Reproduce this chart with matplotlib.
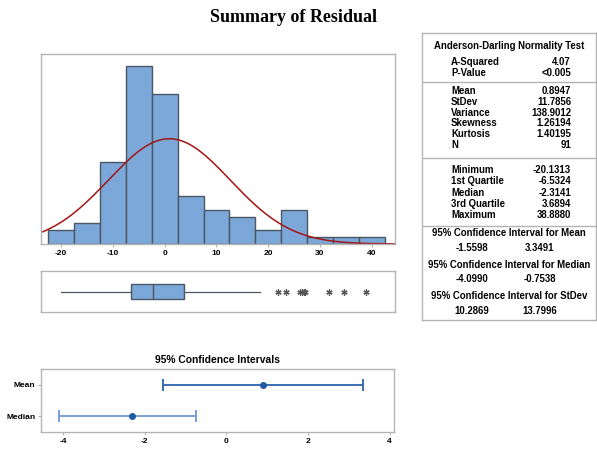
import numpy as np
import matplotlib.pyplot as plt
from matplotlib.ticker import NullLocator

plt.rcParams['font.family'] = ['Liberation Sans', 'DejaVu Sans']
plt.rcParams['axes.unicode_minus'] = False

# histogram of residuals (bin width 5)
bin_centers = [-20, -15, -10, -5, 0, 5, 10, 15, 20, 25, 30, 35, 40]
counts = [2, 3, 12, 26, 22, 7, 5, 4, 2, 5, 1, 1, 1]

# descriptive statistics
n_obs = 91
mean_res = 0.8947
stdev_res = 11.7856
minimum = -20.1313
q1 = -6.5324
median_res = -2.3141
q3 = 3.6894
maximum = 38.8880
whisker_hi = 18.5
outliers = [21.8, 23.5, 26.1, 26.5, 26.9, 27.2, 31.7, 34.6, 38.888]

# 95% confidence intervals
ci_mean = (-1.5598, 3.3491)
ci_median = (-4.0990, -0.7538)
ci_stdev = (10.2869, 13.7996)

ad_labels = ["A-Squared", "P-Value"]
ad_values = ["4.07", "<0.005"]
desc_labels = ["Mean", "StDev", "Variance", "Skewness", "Kurtosis", "N"]
desc_values = ["0.8947", "11.7856", "138.9012", "1.26194", "1.40195", "91"]
quart_labels = ["Minimum", "1st Quartile", "Median", "3rd Quartile", "Maximum"]
quart_values = ["-20.1313", "-6.5324", "-2.3141", "3.6894", "38.8880"]

W, H = 597, 453
BAR = '#7ba7d9'
EDGE = '#4b5763'
FRAME = '#b4b4b4'


def px_axes(fig, x0, y0, x1, y1):
    return fig.add_axes([x0 / W, 1 - y1 / H, (x1 - x0) / W, (y1 - y0) / H])


def frame(ax):
    for s in ax.spines.values():
        s.set_color(FRAME)
        s.set_linewidth(1.0)


fig = plt.figure(figsize=(W / 100, H / 100), dpi=100)
fig.text(294 / W, 1 - 18 / H, "Summary of Residual", ha='center', va='center',
         family='Liberation Serif', fontweight='bold', fontsize=13)

xlim = (-23.9, 44.5)

# --- histogram with fitted normal curve
ax = px_axes(fig, 41, 54, 395, 244)
ax.bar(bin_centers, counts, width=5, color=BAR, edgecolor=EDGE, linewidth=1.0)
xs = np.linspace(xlim[0], xlim[1], 400)
pdf = n_obs * 5 * np.exp(-0.5 * ((xs - mean_res) / stdev_res) ** 2) / (stdev_res * np.sqrt(2 * np.pi))
ax.plot(xs, pdf, color='#a31515', lw=1.1)
ax.set_xlim(*xlim)
ax.set_ylim(0, 27.8)
ax.set_xticks([-20, -10, 0, 10, 20, 30, 40])
ax.yaxis.set_major_locator(NullLocator())
ax.tick_params(axis='x', length=2, color=FRAME, pad=2, labelsize=6)
for t in ax.get_xticklabels():
    t.set_fontweight('bold')
frame(ax)

# --- boxplot
axb = px_axes(fig, 41, 271, 395, 312)
stats = [dict(med=median_res, q1=q1, q3=q3, whislo=minimum, whishi=whisker_hi,
              fliers=outliers)]
axb.bxp(stats, positions=[1], widths=0.35, vert=False, patch_artist=True,
        showcaps=False,
        boxprops=dict(facecolor=BAR, edgecolor=EDGE, linewidth=1.0),
        medianprops=dict(color=EDGE, linewidth=1.0),
        whiskerprops=dict(color=EDGE, linewidth=0.9),
        flierprops=dict(marker=(6, 2, 0), markersize=4.5, markeredgecolor='#555555',
                        markeredgewidth=0.9, linestyle='none'))
axb.set_xlim(*xlim)
axb.set_ylim(0.5, 1.5)
axb.set_xticks([])
axb.set_yticks([])
frame(axb)

# --- confidence interval plot
axc = px_axes(fig, 41, 369, 394, 432)
axc.errorbar([mean_res], [1], xerr=[[mean_res - ci_mean[0]], [ci_mean[1] - mean_res]],
             fmt='o', color='#1f5aa6', ecolor='#2a63ab', elinewidth=1.3,
             capsize=4, capthick=1.3, markersize=4)
axc.errorbar([median_res], [0], xerr=[[median_res - ci_median[0]], [ci_median[1] - median_res]],
             fmt='o', color='#1f5aa6', ecolor='#6c9bd2', elinewidth=1.3,
             capsize=4, capthick=1.3, markersize=4)
axc.set_xlim(-4.54, 4.11)
axc.set_ylim(-0.5, 1.5)
axc.set_xticks([-4, -2, 0, 2, 4])
axc.set_yticks([1, 0])
axc.set_yticklabels(["Mean", "Median"])
axc.tick_params(length=2, color=FRAME, pad=2, labelsize=6)
for t in axc.get_xticklabels() + axc.get_yticklabels():
    t.set_fontweight('bold')
axc.set_title("95% Confidence Intervals", fontsize=7.4, fontweight='bold', pad=4)
frame(axc)

# --- statistics table
axt = px_axes(fig, 422, 33, 596, 320)
axt.set_xlim(422, 596)
axt.set_ylim(320, 33)
axt.set_xticks([])
axt.set_yticks([])
frame(axt)

fs = 6.9
LX, VX = 451, 571
axt.text(509, 46, "Anderson-Darling Normality Test", ha='center', va='center',
         fontsize=fs, fontweight='bold')
for i, (lab, val) in enumerate(zip(ad_labels, ad_values)):
    y = 62 + i * 11
    axt.text(LX, y, lab, va='center', fontsize=fs, fontweight='bold')
    axt.text(VX, y, val, va='center', ha='right', fontsize=fs, fontweight='bold')
axt.axhline(82, color=FRAME, lw=1.0)
for i, (lab, val) in enumerate(zip(desc_labels, desc_values)):
    y = 91 + i * 10.8
    axt.text(LX, y, lab, va='center', fontsize=fs, fontweight='bold')
    axt.text(VX, y, val, va='center', ha='right', fontsize=fs, fontweight='bold')
axt.axhline(158, color=FRAME, lw=1.0)
for i, (lab, val) in enumerate(zip(quart_labels, quart_values)):
    y = 170 + i * 11.3
    axt.text(LX, y, lab, va='center', fontsize=fs, fontweight='bold')
    axt.text(VX, y, val, va='center', ha='right', fontsize=fs, fontweight='bold')
axt.axhline(226, color=FRAME, lw=1.0)

ci_rows = [("Mean", ci_mean), ("Median", ci_median), ("StDev", ci_stdev)]
for i, (name, (lo, hi)) in enumerate(ci_rows):
    y = 233 + i * 31.5
    axt.text(509, y, f"95% Confidence Interval for {name}", ha='center', va='center',
             fontsize=fs, fontweight='bold')
    axt.text(472, y + 15, f"{lo:.4f}", ha='center', va='center', fontsize=fs, fontweight='bold')
    axt.text(540, y + 15, f"{hi:.4f}", ha='center', va='center', fontsize=fs, fontweight='bold')

fig.savefig("out.png", dpi=100)
